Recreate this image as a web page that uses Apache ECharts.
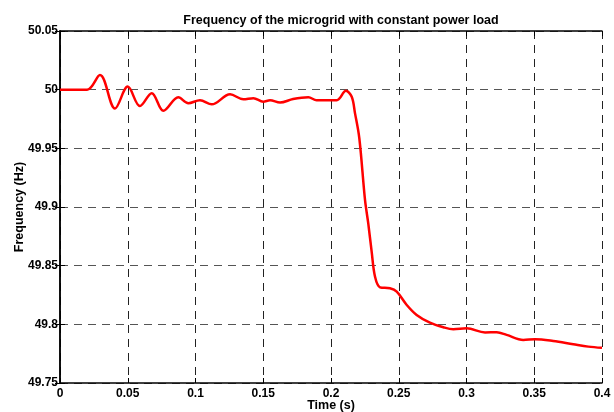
<!DOCTYPE html>
<html><head><meta charset="utf-8">
<script src="https://cdn.jsdelivr.net/npm/echarts@6/dist/echarts.min.js"></script>
<style>html,body{margin:0;padding:0;background:#fff}#c{width:614px;height:412px}</style>
</head><body><div id="c"></div>
<script>
const timeS = [0,0.02,0.0295,0.0406,0.05,0.059,0.0677,0.0763,0.0873,0.0947,0.1033,0.112,0.1255,0.1353,0.1427,0.15,0.155,0.1624,0.172,0.1833,0.1894,0.2042,0.211,0.2153,0.2177,0.2209,0.2251,0.2275,0.23,0.2325,0.2362,0.2435,0.2485,0.2559,0.2632,0.273,0.2829,0.2903,0.3001,0.3137,0.3223,0.3296,0.3419,0.3506,0.364,0.3788,0.3899,0.4];
const freqHz = [50.0,50.0,50.0125,49.984,50.0026,49.986,49.997,49.982,49.9935,49.9884,49.991,49.9875,49.996,49.9918,49.9927,49.9898,49.991,49.989,49.992,49.9935,49.991,49.991,49.999,49.994,49.98,49.9586,49.906,49.886,49.862,49.8406,49.8315,49.8307,49.8278,49.8165,49.808,49.8014,49.7975,49.7958,49.7966,49.7931,49.7932,49.791,49.7867,49.7873,49.7858,49.783,49.781,49.780];
const titleText = 'Frequency of the microgrid with constant power load';
const xName = 'Time (s)';
const yName = 'Frequency (Hz)';

const fnt = 'Liberation Sans, Arial, sans-serif';
const fmt = v => String(+(+v).toFixed(2));
const chart = echarts.init(document.getElementById('c'));
chart.setOption({
  animation:false,
  title:{text:titleText,left:336,textAlign:'center',top:9,textStyle:{fontFamily:fnt,fontWeight:'bold',fontSize:12.5,color:'#000'}},
  grid:{left:60,right:12,top:31,bottom:29,containLabel:false,outerBoundsMode:'none'},
  xAxis:[{type:'value',min:0,max:0.4,interval:0.05,position:'bottom',
    name:xName,nameLocation:'middle',nameGap:16,nameMoveOverlap:false,nameTextStyle:{fontFamily:fnt,fontWeight:'bold',fontSize:12.5,color:'#000'},
    axisLine:{lineStyle:{color:'#000',width:1.5}},axisTick:{inside:true,length:5,lineStyle:{color:'#000'}},
    axisLabel:{formatter:fmt,fontFamily:fnt,fontWeight:'bold',fontSize:12,color:'#000',margin:5},
    splitLine:{show:true,lineStyle:{color:'#222',type:[8,6],width:1}}},
   {type:'value',min:0,max:0.4,interval:0.05,position:'top',
    axisLine:{lineStyle:{color:'#000',width:1.5}},axisTick:{inside:true,length:5,lineStyle:{color:'#000'}},
    axisLabel:{show:false},splitLine:{show:false}}],
  yAxis:[{type:'value',min:49.75,max:50.05,interval:0.05,position:'left',
    name:yName,nameLocation:'middle',nameGap:34,nameMoveOverlap:false,nameTextStyle:{fontFamily:fnt,fontWeight:'bold',fontSize:12.5,color:'#000'},
    axisLine:{lineStyle:{color:'#000',width:1.5}},axisTick:{inside:true,length:5,lineStyle:{color:'#000'}},
    axisLabel:{formatter:fmt,fontFamily:fnt,fontWeight:'bold',fontSize:12,color:'#000',margin:2},
    splitLine:{show:true,lineStyle:{color:'#555',type:[8,6],width:1}}},
   {type:'value',min:49.75,max:50.05,interval:0.05,position:'right',
    axisLine:{lineStyle:{color:'#000',width:1.5}},axisTick:{inside:true,length:5,lineStyle:{color:'#000'}},
    axisLabel:{show:false},splitLine:{show:false}}],
  series:[{type:'line',xAxisIndex:0,yAxisIndex:0,data:timeS.map((t,i)=>[t,freqHz[i]]),
    smooth:0.35,showSymbol:false,lineStyle:{color:'#ff0000',width:2.5}}]
});
</script></body></html>
